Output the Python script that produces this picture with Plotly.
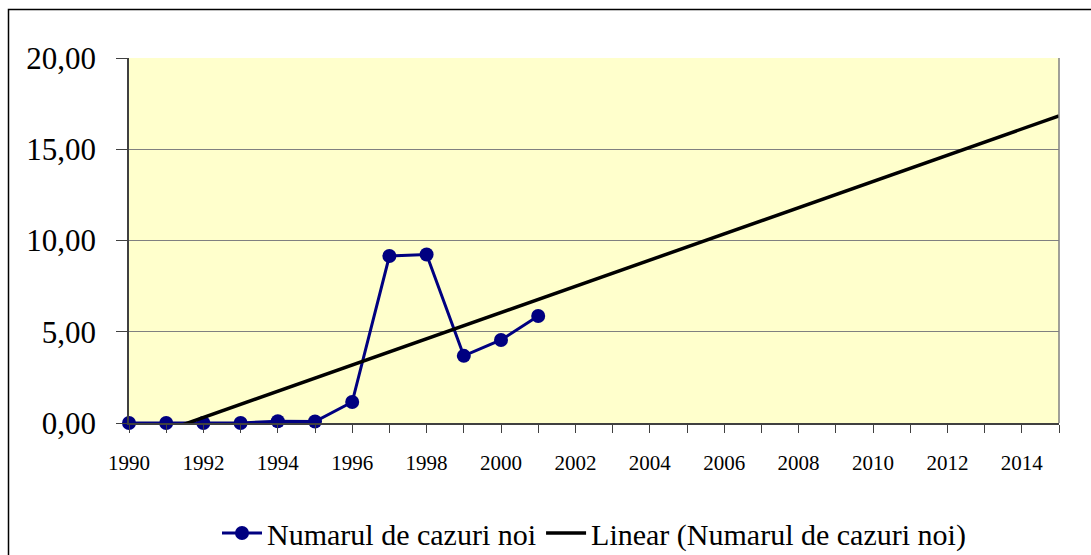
import numpy as np
import plotly.graph_objects as go

years = [1990, 1991, 1992, 1993, 1994, 1995, 1996, 1997, 1998, 1999, 2000, 2001]
new_cases = [0.0, 0.0, 0.0, 0.0, 0.1, 0.08, 1.15, 9.15, 9.23, 3.68, 4.55, 5.86]
forecast_end = 2015
x_tick_labels = [str(y) for y in range(1990, 2015, 2)]
y_ticks = [0, 5, 10, 15, 20]

series_name = "Numarul de cazuri noi"
trend_name = "Linear (Numarul de cazuri noi)"

# linear trendline (least squares) extended forward
slope, intercept = np.polyfit(years, new_cases, 1)
trend_x = [years[0], forecast_end]
trend_y = [slope * x + intercept for x in trend_x]

W, H = 1091, 555
L, R, T, B = 129, 32, 58, 132
pw, ph = W - L - R, H - T - B

def px_x(x):
    return (x - L) / pw

def px_y(y):
    return (H - B - y) / ph

fig = go.Figure()
fig.add_trace(go.Scatter(
    x=years, y=new_cases, name=series_name, mode="lines+markers",
    line=dict(color="#000080", width=3),
    marker=dict(color="#000080", size=14, symbol="circle"),
    cliponaxis=False,
))
fig.add_trace(go.Scatter(
    x=trend_x, y=trend_y, name=trend_name, mode="lines",
    line=dict(color="#000000", width=3.5),
))

font = "Liberation Serif, Times New Roman, serif"

fig.update_layout(
    width=W, height=H,
    margin=dict(l=L, r=R, t=T, b=B, autoexpand=False),
    paper_bgcolor="white",
    plot_bgcolor="#FFFFCC",
    separators=",.",
    font=dict(family=font, color="black"),
    showlegend=True,
    legend=dict(
        orientation="h", x=0.5, xanchor="center", y=px_y(533), yanchor="middle",
        font=dict(family=font, size=30, color="black"),
        itemwidth=40, traceorder="normal", bgcolor="rgba(0,0,0,0)",
    ),
    xaxis=dict(
        range=[1990, forecast_end], tickmode="array",
        tickvals=list(range(1990, 2015, 2)), ticktext=x_tick_labels,
        ticks="outside", ticklen=8, tickcolor="#404040", tickwidth=1,
        minor=dict(dtick=1, tick0=1990, ticks="outside", ticklen=8, tickcolor="#404040", showgrid=False),
        tickfont=dict(family=font, size=21, color="black"),
        ticklabelstandoff=12,
        showgrid=False, zeroline=False,
        showline=True, linecolor="#404040", linewidth=1.5,
    ),
    yaxis=dict(
        range=[0, 20], tickvals=y_ticks, tickformat=".2f",
        ticks="outside", ticklen=11, tickcolor="#404040", tickwidth=1,
        tickfont=dict(family=font, size=31, color="black"),
        ticklabelstandoff=14,
        showgrid=True, gridcolor="#808080", gridwidth=1,
        zeroline=False,
        showline=True, linecolor="#404040", linewidth=1.5,
    ),
    shapes=[
        dict(type="line", xref="paper", yref="paper", x0=1, x1=1, y0=0, y1=1,
             line=dict(color="#808080", width=1.5)),
        dict(type="rect", xref="paper", yref="paper",
             x0=px_x(8.5), x1=px_x(1200), y0=px_y(600), y1=px_y(9.5),
             line=dict(color="black", width=1.5), fillcolor="rgba(0,0,0,0)", layer="above"),
    ],
)

fig.write_html(
    "out.html",
    config={"displayModeBar": False},
    post_script="document.body.style.margin='0';document.body.style.overflow='hidden';",
)
